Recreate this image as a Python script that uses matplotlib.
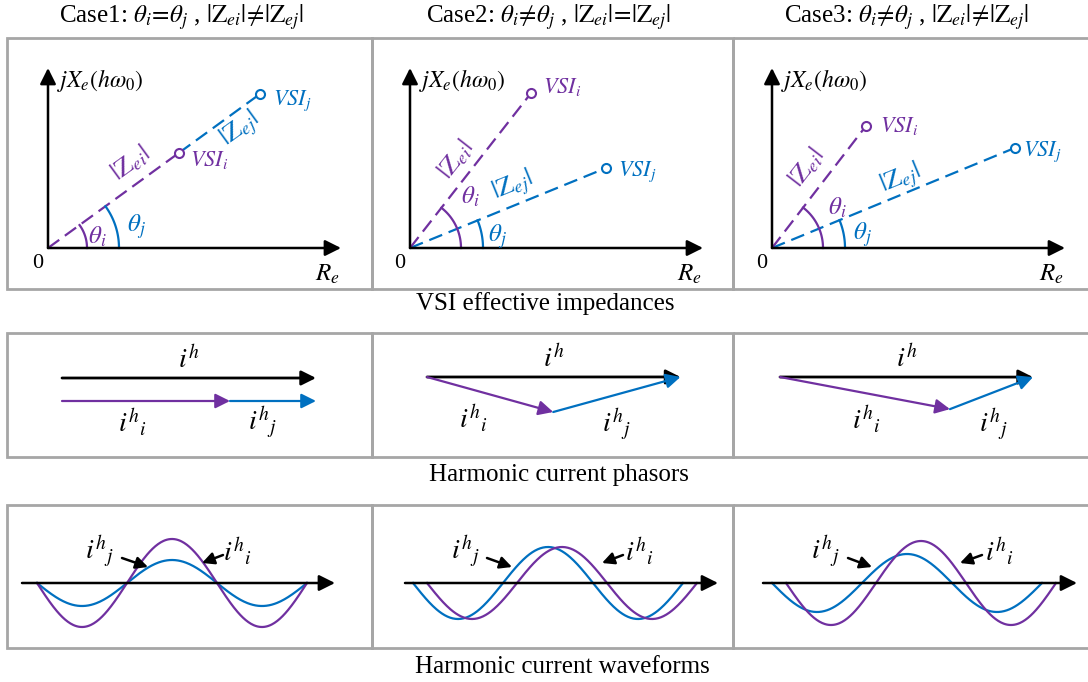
import numpy as np
import matplotlib.pyplot as plt
from matplotlib.patches import Rectangle

plt.rcParams['font.family'] = ['Liberation Serif', 'DejaVu Serif']
plt.rcParams['mathtext.fontset'] = 'stix'
plt.rcParams['lines.scale_dashes'] = False

PURPLE = '#7030A0'
BLUE = '#0070C0'
GRAY = '#A6A6A6'

# ---- data (drawing units) ----
case_titles = [
    r'Case1: $\theta_i\!=\!\theta_j$ , $|\mathrm{Z}_{ei}|\!\neq\!|\mathrm{Z}_{ej}|$',
    r'Case2: $\theta_i\!\neq\!\theta_j$ , $|\mathrm{Z}_{ei}|\!=\!|\mathrm{Z}_{ej}|$',
    r'Case3: $\theta_i\!\neq\!\theta_j$ , $|\mathrm{Z}_{ei}|\!\neq\!|\mathrm{Z}_{ej}|$',
]
row_captions = ['VSI effective impedances', 'Harmonic current phasors',
                'Harmonic current waveforms']

# impedance angle (deg) and magnitude of each VSI
theta_i = [36.0, 52.0, 52.4]
theta_j = [36.0, 22.2, 22.4]
z_ei = [162, 197, 154]
z_ej = [262, 212, 263]

# harmonic current phasors (magnitude, angle in deg)
ph_i_mag = [168, 131, 173]
ph_i_ang = [0.0, -15.5, -10.7]
ph_j_mag = [86, 132, 89]
ph_j_ang = [0.0, 15.4, 21.1]

# harmonic current waveforms
wave_amp_i = [44, 36, 42]
wave_amp_j = [23, 36, 29]
wave_lag_i = [0, 28, 28]      # deg, i_i lagging i_j
wave_period = 180
wave_cycles = 1.5

# ---- layout (pixels) ----
W, H = 1088, 682
col_edges = [7, 371.5, 733, 1094]
row_spans = [(38, 289), (333, 457), (505, 648)]
title_x = [181, 548, 906]
caption_xy = [(545, 304), (559, 475), (562, 667)]
imp_origin = [(48, 248), (410, 248), (772, 248)]
ph_start = [(62, 401), (427, 377), (780, 377)]
ph_sum_shift = [23, 0, 0]
wave_x0 = [37, 413, 772]
wave_axis = [(22, 335), (405, 718), (763, 1077)]
wave_y0 = 583

zei_lab = [(116, 20), (98, 18), (85, 22)]     # along, perpendicular
zej_lab = [(225, -17), (118, 18), (145, 14)]
thi_lab = [(49, -11), (60, -51), (65, -40)]
thj_lab = [(88, -21), (87, -11), (90, -13)]
vsii_lab = [(11, 7), (12, -6), (14, 0)]
vsij_lab = [(13, 7), (12, 4), (8, 4)]
r_arc_i = [39, 51, 51]
r_arc_j = [71, 73, 73]
phi_lab = [(-13, 22), (-17, 24), (2, 27)]
phj_lab = [(-10, 22), (0, 30), (2, 32)]
wj_lab = [(63, 85, 111), (53, 74, 99), (54, 76, 100)]    # text x, arrow from, arrow to
wi_lab = [(201, 186, 165), (227, 210, 189), (228, 210, 188)]


def arrow(ax, p0, p1, color='k', lw=1.6, scale=20):
    ax.annotate('', xy=p1, xytext=p0,
                arrowprops=dict(arrowstyle='-|>', color=color, lw=lw,
                                mutation_scale=scale, shrinkA=0, shrinkB=0))


def polar(o, r, deg):
    a = np.radians(deg)
    return o[0] + r * np.cos(a), o[1] - r * np.sin(a)


fig = plt.figure(figsize=(W / 100, H / 100), dpi=100)
ax = fig.add_axes([0, 0, 1, 1])
ax.set_xlim(0, W)
ax.set_ylim(H, 0)
ax.axis('off')

# frames
for y0, y1 in row_spans:
    for k in range(3):
        ax.add_patch(Rectangle((col_edges[k], y0), col_edges[k + 1] - col_edges[k], y1 - y0,
                               fill=False, ec=GRAY, lw=2))

for k in range(3):
    ax.text(title_x[k], 17, case_titles[k], ha='center', va='center', fontsize=18)
for (cx, cy), txt in zip(caption_xy, row_captions):
    ax.text(cx, cy, txt, ha='center', va='center', fontsize=18)

# row 1: effective impedances
for k in range(3):
    o = imp_origin[k]
    arrow(ax, o, (o[0], o[1] - 180), lw=1.8, scale=24)
    arrow(ax, o, (o[0] + 293, o[1]), lw=1.8, scale=24)
    ax.text(o[0] - 10, o[1] + 15, '0', ha='center', va='center', fontsize=16)
    ax.text(o[0] + 279, o[1] + 26, r'$R_e$', ha='center', va='center', fontsize=18)
    ax.text(o[0] + 9, 80, r'$jX_e(h\omega_0)$', ha='left', va='center', fontsize=17)

    pi = polar(o, z_ei[k], theta_i[k])
    pj = polar(o, z_ej[k], theta_j[k])
    start_j = pi if theta_i[k] == theta_j[k] else o
    ax.plot([start_j[0], pj[0]], [start_j[1], pj[1]], color=BLUE, lw=1.6,
            ls=(0, (10, 5)))
    ax.plot([o[0], pi[0]], [o[1], pi[1]], color=PURPLE, lw=1.6, ls=(0, (10, 5)))
    ax.plot(*pi, 'o', ms=6.5, mfc='white', mec=PURPLE, mew=1.5, zorder=4)
    ax.plot(*pj, 'o', ms=6.5, mfc='white', mec=BLUE, mew=1.5, zorder=4)

    for th, r, c in [(theta_j[k], r_arc_j[k], BLUE), (theta_i[k], r_arc_i[k], PURPLE)]:
        t = np.radians(np.linspace(0, th, 60))
        ax.plot(o[0] + r * np.cos(t), o[1] - r * np.sin(t), color=c, lw=1.6)

    for (al, pe), th, txt, c in [(zei_lab[k], theta_i[k], r'$|\mathrm{Z}_{ei}|$', PURPLE),
                                 (zej_lab[k], theta_j[k], r'$|\mathrm{Z}_{ej}|$', BLUE)]:
        a = np.radians(th)
        x = o[0] + al * np.cos(a) - pe * np.sin(a)
        y = o[1] - al * np.sin(a) - pe * np.cos(a)
        ax.text(x, y, txt, rotation=th, rotation_mode='anchor', ha='center',
                va='center', fontsize=19, color=c)

    ax.text(o[0] + thi_lab[k][0], o[1] + thi_lab[k][1], r'$\theta_i$', color=PURPLE,
            ha='center', va='center', fontsize=18)
    ax.text(o[0] + thj_lab[k][0], o[1] + thj_lab[k][1], r'$\theta_j$', color=BLUE,
            ha='center', va='center', fontsize=18)
    ax.text(pi[0] + vsii_lab[k][0], pi[1] + vsii_lab[k][1], r'$VSI_i$', color=PURPLE,
            ha='left', va='center', fontsize=16)
    ax.text(pj[0] + vsij_lab[k][0], pj[1] + vsij_lab[k][1], r'$VSI_j$', color=BLUE,
            ha='left', va='center', fontsize=16)

# row 2: phasors
for k in range(3):
    s = ph_start[k]
    m = polar(s, ph_i_mag[k], ph_i_ang[k])
    e = polar(m, ph_j_mag[k], ph_j_ang[k])
    sh = ph_sum_shift[k]
    arrow(ax, (s[0], s[1] - sh), (e[0], e[1] - sh), color='k', lw=2.0, scale=22)
    arrow(ax, s, m, color=PURPLE, lw=1.6, scale=22)
    arrow(ax, m, e, color=BLUE, lw=1.6, scale=22)
    ax.text((s[0] + e[0]) / 2, (s[1] + e[1]) / 2 - sh - 18, r'$i^h$',
            ha='center', va='center', fontsize=20)
    ax.text((s[0] + m[0]) / 2 + phi_lab[k][0], (s[1] + m[1]) / 2 + phi_lab[k][1],
            r'${i^h}_i$', ha='center', va='center', fontsize=20)
    ax.text((m[0] + e[0]) / 2 + phj_lab[k][0], (m[1] + e[1]) / 2 + phj_lab[k][1],
            r'${i^h}_j$', ha='center', va='center', fontsize=20)

# row 3: waveforms
for k in range(3):
    arrow(ax, (wave_axis[k][0], wave_y0), (wave_axis[k][1], wave_y0), lw=1.8, scale=24)
    x = np.linspace(0, wave_cycles * wave_period, 300)
    shift = wave_lag_i[k] / 360 * wave_period
    x0 = wave_x0[k]
    ax.plot(x0 + x, wave_y0 - wave_amp_j[k] * -np.sin(2 * np.pi * x / wave_period),
            color=BLUE, lw=1.6)
    ax.plot(x0 + shift + x, wave_y0 - wave_amp_i[k] * -np.sin(2 * np.pi * x / wave_period),
            color=PURPLE, lw=1.6)
    tx, a0, a1 = wj_lab[k]
    ax.text(x0 + tx, 552, r'${i^h}_j$', ha='center', va='center', fontsize=20)
    arrow(ax, (x0 + a0, 558), (x0 + a1, 567), lw=1.8, scale=18)
    tx, a0, a1 = wi_lab[k]
    ax.text(x0 + tx, 552, r'${i^h}_i$', ha='center', va='center', fontsize=20)
    arrow(ax, (x0 + a0, 555), (x0 + a1, 563), lw=1.8, scale=18)

fig.savefig('out.png', dpi=100)
